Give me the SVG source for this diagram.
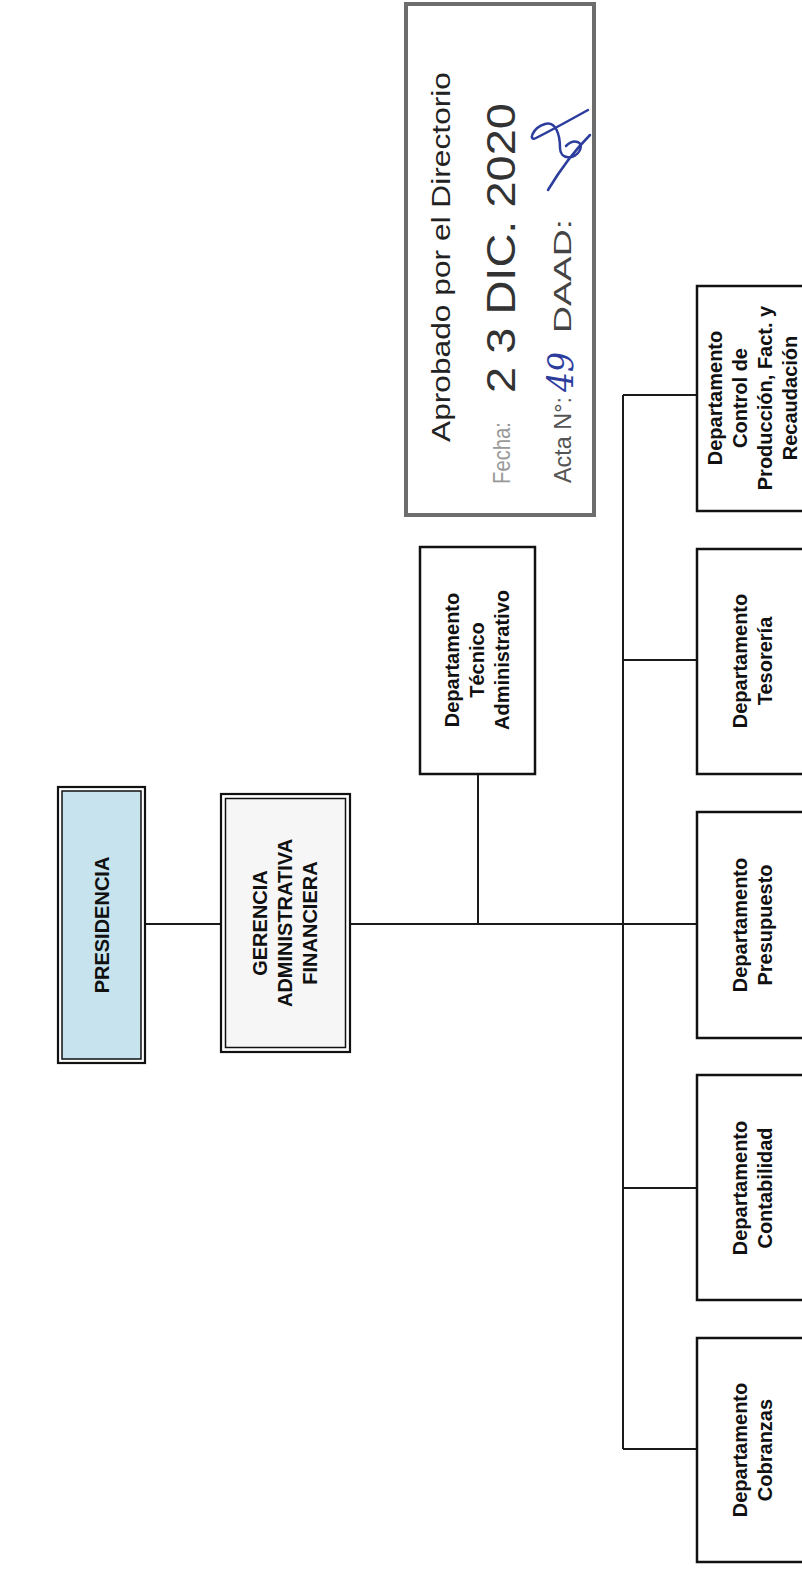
<svg xmlns="http://www.w3.org/2000/svg" width="802" height="1569" viewBox="0 0 802 1569">
<style>
.lbl{font-family:"Liberation Sans",Arial,sans-serif;font-weight:bold;font-size:20px;fill:#111;text-anchor:middle}
.box{fill:#fff;stroke:#111;stroke-width:2.5}
.dbo{stroke:#111;stroke-width:2.2;fill:none}
.dbi{stroke:#111;stroke-width:1.5}
.con{stroke:#1a1a1a;stroke-width:2;fill:none}
.st{font-family:"Liberation Sans",Arial,sans-serif}
</style>
<rect width="802" height="1569" fill="#fff"/>
<g id="connectors">
<line class="con" x1="145" y1="924" x2="221" y2="924"/>
<line class="con" x1="350" y1="924" x2="623" y2="924"/>
<line class="con" x1="478" y1="774" x2="478" y2="924"/>
<line class="con" x1="623" y1="395" x2="623" y2="1449"/>
<line class="con" x1="623" y1="395" x2="697" y2="395"/>
<line class="con" x1="623" y1="660" x2="697" y2="660"/>
<line class="con" x1="623" y1="924" x2="697" y2="924"/>
<line class="con" x1="623" y1="1188" x2="697" y2="1188"/>
<line class="con" x1="623" y1="1449" x2="697" y2="1449"/>
</g>
<g id="presidencia">
<rect x="58" y="787" width="87" height="276" fill="#c6e3ee" class="dbo"/>
<rect x="62" y="791" width="79" height="268" fill="#c6e3ee" class="dbi"/>
<text class="lbl" transform="translate(109,925) rotate(-90)">PRESIDENCIA</text>
</g>
<g id="gerencia">
<rect x="221" y="794" width="129" height="258" fill="#f6f6f6" class="dbo"/>
<rect x="225.5" y="798.5" width="120" height="249" fill="#f6f6f6" class="dbi"/>
<text class="lbl" transform="translate(267,923) rotate(-90)"><tspan x="0" y="0">GERENCIA</tspan><tspan x="0" y="25">ADMINISTRATIVA</tspan><tspan x="0" y="50">FINANCIERA</tspan></text>
</g>
<g id="tecnico">
<rect class="box" x="420" y="547" width="115" height="227"/>
<text class="lbl" transform="translate(459,660) rotate(-90)"><tspan x="0" y="0">Departamento</tspan><tspan x="0" y="25">Técnico</tspan><tspan x="0" y="50">Administrativo</tspan></text>
</g>
<g id="control">
<rect class="box" x="697" y="286" width="112" height="225"/>
<text class="lbl" transform="translate(722,398) rotate(-90)"><tspan x="0" y="0">Departamento</tspan><tspan x="0" y="25">Control de</tspan><tspan x="0" y="50">Producción, Fact. y</tspan><tspan x="0" y="75">Recaudación</tspan></text>
</g>
<g id="tesoreria">
<rect class="box" x="697" y="549" width="112" height="225"/>
<text class="lbl" transform="translate(747,661) rotate(-90)"><tspan x="0" y="0">Departamento</tspan><tspan x="0" y="25">Tesorería</tspan></text>
</g>
<g id="presupuesto">
<rect class="box" x="697" y="812" width="112" height="226"/>
<text class="lbl" transform="translate(747,925) rotate(-90)"><tspan x="0" y="0">Departamento</tspan><tspan x="0" y="25">Presupuesto</tspan></text>
</g>
<g id="contabilidad">
<rect class="box" x="697" y="1075" width="112" height="225"/>
<text class="lbl" transform="translate(747,1188) rotate(-90)"><tspan x="0" y="0">Departamento</tspan><tspan x="0" y="25">Contabilidad</tspan></text>
</g>
<g id="cobranzas">
<rect class="box" x="697" y="1338" width="112" height="224"/>
<text class="lbl" transform="translate(747,1450) rotate(-90)"><tspan x="0" y="0">Departamento</tspan><tspan x="0" y="25">Cobranzas</tspan></text>
</g>
<g id="stamp">
<rect x="406" y="4" width="188" height="511" fill="none" stroke="#6d6d6d" stroke-width="4"/>
<text class="st" transform="translate(450,257) rotate(-90)" text-anchor="middle" font-size="26" fill="#222" textLength="370" lengthAdjust="spacingAndGlyphs">Aprobado por el Directorio</text>
<text class="st" transform="translate(510,484) rotate(-90)" font-size="24" fill="#999" textLength="62" lengthAdjust="spacingAndGlyphs">Fecha:</text>
<text class="st" transform="translate(515,393) rotate(-90)" font-size="40" fill="#333" textLength="290" lengthAdjust="spacingAndGlyphs">2 3 DIC. 2020</text>
<text class="st" transform="translate(571,483) rotate(-90)" font-size="24" fill="#555" textLength="86" lengthAdjust="spacingAndGlyphs">Acta N°:</text>
<text transform="translate(573,392) rotate(-90)" font-family="'DejaVu Serif',serif" font-style="italic" font-size="36" fill="#2c3d9e" textLength="40" lengthAdjust="spacingAndGlyphs">49</text>
<text class="st" transform="translate(571,333) rotate(-90)" font-size="24" fill="#444" textLength="114" lengthAdjust="spacingAndGlyphs">DAAD:</text>
<path d="M588,110 C570,120 548,132 536,138 C528,142 532,128 545,124 C556,121 560,135 560,148 C560,160 575,160 580,150 C584,142 574,138 566,146 M548,190 C560,170 575,150 590,135" fill="none" stroke="#2c3d9e" stroke-width="2.5" stroke-linecap="round"/>
</g>
</svg>
